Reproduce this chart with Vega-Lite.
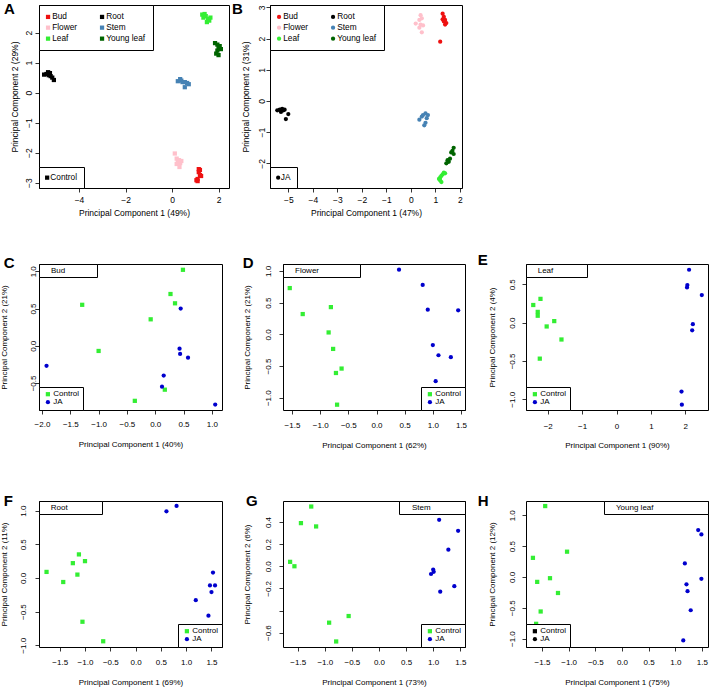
{
  "$schema": "https://vega.github.io/schema/vega-lite/v6.json",
  "padding": {"left": 0, "top": 1, "right": 0, "bottom": 0},
  "datasets": {
    "A": [
      {"tissue": "Bud", "treatment": "Control", "pc1": 1.15, "pc2": -2.55},
      {"tissue": "Bud", "treatment": "Control", "pc1": 1.2, "pc2": -2.58},
      {"tissue": "Bud", "treatment": "Control", "pc1": 1.15, "pc2": -2.65},
      {"tissue": "Bud", "treatment": "Control", "pc1": 1.2, "pc2": -2.75},
      {"tissue": "Bud", "treatment": "Control", "pc1": 1.25, "pc2": -2.78},
      {"tissue": "Bud", "treatment": "Control", "pc1": 1.1, "pc2": -2.88},
      {"tissue": "Bud", "treatment": "Control", "pc1": 1.05, "pc2": -2.92},
      {"tissue": "Bud", "treatment": "Control", "pc1": 1.1, "pc2": -2.95},
      {"tissue": "Flower", "treatment": "Control", "pc1": 0.12, "pc2": -2.03},
      {"tissue": "Flower", "treatment": "Control", "pc1": 0.2, "pc2": -2.2},
      {"tissue": "Flower", "treatment": "Control", "pc1": 0.25, "pc2": -2.3},
      {"tissue": "Flower", "treatment": "Control", "pc1": 0.3, "pc2": -2.25},
      {"tissue": "Flower", "treatment": "Control", "pc1": 0.4, "pc2": -2.28},
      {"tissue": "Flower", "treatment": "Control", "pc1": 0.2, "pc2": -2.38},
      {"tissue": "Flower", "treatment": "Control", "pc1": 0.35, "pc2": -2.35},
      {"tissue": "Flower", "treatment": "Control", "pc1": 0.32, "pc2": -2.48},
      {"tissue": "Leaf", "treatment": "Control", "pc1": 1.3, "pc2": 2.6},
      {"tissue": "Leaf", "treatment": "Control", "pc1": 1.4, "pc2": 2.62},
      {"tissue": "Leaf", "treatment": "Control", "pc1": 1.45, "pc2": 2.55},
      {"tissue": "Leaf", "treatment": "Control", "pc1": 1.35, "pc2": 2.5},
      {"tissue": "Leaf", "treatment": "Control", "pc1": 1.55, "pc2": 2.45},
      {"tissue": "Leaf", "treatment": "Control", "pc1": 1.6, "pc2": 2.4},
      {"tissue": "Leaf", "treatment": "Control", "pc1": 1.5, "pc2": 2.35},
      {"tissue": "Leaf", "treatment": "Control", "pc1": 1.65, "pc2": 2.5},
      {"tissue": "Root", "treatment": "Control", "pc1": -5.5, "pc2": 0.6},
      {"tissue": "Root", "treatment": "Control", "pc1": -5.4, "pc2": 0.62},
      {"tissue": "Root", "treatment": "Control", "pc1": -5.33, "pc2": 0.68},
      {"tissue": "Root", "treatment": "Control", "pc1": -5.3, "pc2": 0.58},
      {"tissue": "Root", "treatment": "Control", "pc1": -5.25, "pc2": 0.65},
      {"tissue": "Root", "treatment": "Control", "pc1": -5.22, "pc2": 0.55},
      {"tissue": "Root", "treatment": "Control", "pc1": -5.15, "pc2": 0.5},
      {"tissue": "Root", "treatment": "Control", "pc1": -5.08, "pc2": 0.42},
      {"tissue": "Stem", "treatment": "Control", "pc1": 0.25, "pc2": 0.38},
      {"tissue": "Stem", "treatment": "Control", "pc1": 0.35, "pc2": 0.45},
      {"tissue": "Stem", "treatment": "Control", "pc1": 0.4, "pc2": 0.4},
      {"tissue": "Stem", "treatment": "Control", "pc1": 0.45, "pc2": 0.35},
      {"tissue": "Stem", "treatment": "Control", "pc1": 0.55, "pc2": 0.35},
      {"tissue": "Stem", "treatment": "Control", "pc1": 0.65, "pc2": 0.32},
      {"tissue": "Stem", "treatment": "Control", "pc1": 0.72, "pc2": 0.28},
      {"tissue": "Stem", "treatment": "Control", "pc1": 0.55, "pc2": 0.18},
      {"tissue": "Young leaf", "treatment": "Control", "pc1": 1.85, "pc2": 1.65},
      {"tissue": "Young leaf", "treatment": "Control", "pc1": 1.95, "pc2": 1.6},
      {"tissue": "Young leaf", "treatment": "Control", "pc1": 2.05, "pc2": 1.55},
      {"tissue": "Young leaf", "treatment": "Control", "pc1": 2.0, "pc2": 1.5},
      {"tissue": "Young leaf", "treatment": "Control", "pc1": 2.1, "pc2": 1.45},
      {"tissue": "Young leaf", "treatment": "Control", "pc1": 1.95, "pc2": 1.4},
      {"tissue": "Young leaf", "treatment": "Control", "pc1": 1.9, "pc2": 1.3},
      {"tissue": "Young leaf", "treatment": "Control", "pc1": 2.0, "pc2": 1.25}
    ],
    "B": [
      {"tissue": "Bud", "treatment": "JA", "pc1": 1.3, "pc2": 2.8},
      {"tissue": "Bud", "treatment": "JA", "pc1": 1.35, "pc2": 2.7},
      {"tissue": "Bud", "treatment": "JA", "pc1": 1.3, "pc2": 2.62},
      {"tissue": "Bud", "treatment": "JA", "pc1": 1.4, "pc2": 2.6},
      {"tissue": "Bud", "treatment": "JA", "pc1": 1.35, "pc2": 2.55},
      {"tissue": "Bud", "treatment": "JA", "pc1": 1.45, "pc2": 2.5},
      {"tissue": "Bud", "treatment": "JA", "pc1": 1.4, "pc2": 2.45},
      {"tissue": "Bud", "treatment": "JA", "pc1": 1.2, "pc2": 1.9},
      {"tissue": "Flower", "treatment": "JA", "pc1": 0.4, "pc2": 2.75},
      {"tissue": "Flower", "treatment": "JA", "pc1": 0.45, "pc2": 2.65},
      {"tissue": "Flower", "treatment": "JA", "pc1": 0.35, "pc2": 2.6},
      {"tissue": "Flower", "treatment": "JA", "pc1": 0.2, "pc2": 2.48},
      {"tissue": "Flower", "treatment": "JA", "pc1": 0.4, "pc2": 2.45},
      {"tissue": "Flower", "treatment": "JA", "pc1": 0.5, "pc2": 2.42},
      {"tissue": "Flower", "treatment": "JA", "pc1": 0.35, "pc2": 2.35},
      {"tissue": "Flower", "treatment": "JA", "pc1": 0.45, "pc2": 2.2},
      {"tissue": "Leaf", "treatment": "JA", "pc1": 1.35, "pc2": -2.3},
      {"tissue": "Leaf", "treatment": "JA", "pc1": 1.3, "pc2": -2.35},
      {"tissue": "Leaf", "treatment": "JA", "pc1": 1.25, "pc2": -2.4},
      {"tissue": "Leaf", "treatment": "JA", "pc1": 1.4, "pc2": -2.32},
      {"tissue": "Leaf", "treatment": "JA", "pc1": 1.2, "pc2": -2.45},
      {"tissue": "Leaf", "treatment": "JA", "pc1": 1.15, "pc2": -2.5},
      {"tissue": "Leaf", "treatment": "JA", "pc1": 1.2, "pc2": -2.55},
      {"tissue": "Leaf", "treatment": "JA", "pc1": 1.25, "pc2": -2.6},
      {"tissue": "Root", "treatment": "JA", "pc1": -5.45, "pc2": -0.3},
      {"tissue": "Root", "treatment": "JA", "pc1": -5.35, "pc2": -0.28},
      {"tissue": "Root", "treatment": "JA", "pc1": -5.3, "pc2": -0.35},
      {"tissue": "Root", "treatment": "JA", "pc1": -5.25, "pc2": -0.25},
      {"tissue": "Root", "treatment": "JA", "pc1": -5.2, "pc2": -0.3},
      {"tissue": "Root", "treatment": "JA", "pc1": -5.15, "pc2": -0.28},
      {"tissue": "Root", "treatment": "JA", "pc1": -5.0, "pc2": -0.42},
      {"tissue": "Root", "treatment": "JA", "pc1": -5.1, "pc2": -0.58},
      {"tissue": "Stem", "treatment": "JA", "pc1": 0.35, "pc2": -0.6},
      {"tissue": "Stem", "treatment": "JA", "pc1": 0.45, "pc2": -0.5},
      {"tissue": "Stem", "treatment": "JA", "pc1": 0.5, "pc2": -0.45},
      {"tissue": "Stem", "treatment": "JA", "pc1": 0.6, "pc2": -0.4},
      {"tissue": "Stem", "treatment": "JA", "pc1": 0.7, "pc2": -0.45},
      {"tissue": "Stem", "treatment": "JA", "pc1": 0.65, "pc2": -0.55},
      {"tissue": "Stem", "treatment": "JA", "pc1": 0.6, "pc2": -0.7},
      {"tissue": "Stem", "treatment": "JA", "pc1": 0.55, "pc2": -0.78},
      {"tissue": "Young leaf", "treatment": "JA", "pc1": 1.75, "pc2": -1.5},
      {"tissue": "Young leaf", "treatment": "JA", "pc1": 1.7, "pc2": -1.6},
      {"tissue": "Young leaf", "treatment": "JA", "pc1": 1.65, "pc2": -1.65},
      {"tissue": "Young leaf", "treatment": "JA", "pc1": 1.75, "pc2": -1.7},
      {"tissue": "Young leaf", "treatment": "JA", "pc1": 1.6, "pc2": -1.85},
      {"tissue": "Young leaf", "treatment": "JA", "pc1": 1.5, "pc2": -1.9},
      {"tissue": "Young leaf", "treatment": "JA", "pc1": 1.45, "pc2": -2.0},
      {"tissue": "Young leaf", "treatment": "JA", "pc1": 1.55, "pc2": -1.95}
    ],
    "C": [
      {"tissue": "Bud", "treatment": "Control", "pc1": -1.29, "pc2": 0.55},
      {"tissue": "Bud", "treatment": "Control", "pc1": -1.0, "pc2": -0.07},
      {"tissue": "Bud", "treatment": "Control", "pc1": -0.08, "pc2": 0.355},
      {"tissue": "Bud", "treatment": "Control", "pc1": 0.27, "pc2": 0.695},
      {"tissue": "Bud", "treatment": "Control", "pc1": 0.35, "pc2": 0.57},
      {"tissue": "Bud", "treatment": "Control", "pc1": 0.49, "pc2": 1.02},
      {"tissue": "Bud", "treatment": "Control", "pc1": 0.17, "pc2": -0.59},
      {"tissue": "Bud", "treatment": "Control", "pc1": -0.36, "pc2": -0.74},
      {"tissue": "Bud", "treatment": "JA", "pc1": -1.92, "pc2": -0.27},
      {"tissue": "Bud", "treatment": "JA", "pc1": 0.45, "pc2": 0.5},
      {"tissue": "Bud", "treatment": "JA", "pc1": 0.43, "pc2": -0.04},
      {"tissue": "Bud", "treatment": "JA", "pc1": 0.44, "pc2": -0.11},
      {"tissue": "Bud", "treatment": "JA", "pc1": 0.58, "pc2": -0.16},
      {"tissue": "Bud", "treatment": "JA", "pc1": 0.15, "pc2": -0.4},
      {"tissue": "Bud", "treatment": "JA", "pc1": 0.12, "pc2": -0.55},
      {"tissue": "Bud", "treatment": "JA", "pc1": 1.06, "pc2": -0.79}
    ],
    "D": [
      {"tissue": "Flower", "treatment": "Control", "pc1": -1.54, "pc2": 0.73},
      {"tissue": "Flower", "treatment": "Control", "pc1": -1.31, "pc2": 0.32},
      {"tissue": "Flower", "treatment": "Control", "pc1": -0.81, "pc2": 0.43},
      {"tissue": "Flower", "treatment": "Control", "pc1": -0.85, "pc2": 0.03},
      {"tissue": "Flower", "treatment": "Control", "pc1": -0.77, "pc2": -0.23},
      {"tissue": "Flower", "treatment": "Control", "pc1": -0.62, "pc2": -0.54},
      {"tissue": "Flower", "treatment": "Control", "pc1": -0.72, "pc2": -0.61},
      {"tissue": "Flower", "treatment": "Control", "pc1": -0.7, "pc2": -1.11},
      {"tissue": "Flower", "treatment": "JA", "pc1": 0.4, "pc2": 1.02},
      {"tissue": "Flower", "treatment": "JA", "pc1": 0.82, "pc2": 0.78},
      {"tissue": "Flower", "treatment": "JA", "pc1": 0.91, "pc2": 0.39},
      {"tissue": "Flower", "treatment": "JA", "pc1": 1.45, "pc2": 0.38},
      {"tissue": "Flower", "treatment": "JA", "pc1": 1.0, "pc2": -0.17},
      {"tissue": "Flower", "treatment": "JA", "pc1": 1.1, "pc2": -0.33},
      {"tissue": "Flower", "treatment": "JA", "pc1": 1.32, "pc2": -0.36},
      {"tissue": "Flower", "treatment": "JA", "pc1": 1.05, "pc2": -0.74}
    ],
    "E": [
      {"tissue": "Leaf", "treatment": "Control", "pc1": -2.42, "pc2": 0.23},
      {"tissue": "Leaf", "treatment": "Control", "pc1": -2.21, "pc2": 0.31},
      {"tissue": "Leaf", "treatment": "Control", "pc1": -2.29, "pc2": 0.14},
      {"tissue": "Leaf", "treatment": "Control", "pc1": -2.29, "pc2": 0.09},
      {"tissue": "Leaf", "treatment": "Control", "pc1": -1.81, "pc2": 0.02},
      {"tissue": "Leaf", "treatment": "Control", "pc1": -2.03, "pc2": -0.05},
      {"tissue": "Leaf", "treatment": "Control", "pc1": -1.6, "pc2": -0.22},
      {"tissue": "Leaf", "treatment": "Control", "pc1": -2.23, "pc2": -0.47},
      {"tissue": "Leaf", "treatment": "JA", "pc1": 2.11, "pc2": 0.69},
      {"tissue": "Leaf", "treatment": "JA", "pc1": 2.06, "pc2": 0.49},
      {"tissue": "Leaf", "treatment": "JA", "pc1": 2.05, "pc2": 0.46},
      {"tissue": "Leaf", "treatment": "JA", "pc1": 2.48, "pc2": 0.36},
      {"tissue": "Leaf", "treatment": "JA", "pc1": 2.22, "pc2": -0.02},
      {"tissue": "Leaf", "treatment": "JA", "pc1": 2.2, "pc2": -0.1},
      {"tissue": "Leaf", "treatment": "JA", "pc1": 1.89, "pc2": -0.9},
      {"tissue": "Leaf", "treatment": "JA", "pc1": 1.9, "pc2": -1.07}
    ],
    "F": [
      {"tissue": "Root", "treatment": "Control", "pc1": -1.76, "pc2": 0.09},
      {"tissue": "Root", "treatment": "Control", "pc1": -1.43, "pc2": -0.06},
      {"tissue": "Root", "treatment": "Control", "pc1": -1.24, "pc2": 0.22},
      {"tissue": "Root", "treatment": "Control", "pc1": -1.12, "pc2": 0.35},
      {"tissue": "Root", "treatment": "Control", "pc1": -1.0, "pc2": 0.25},
      {"tissue": "Root", "treatment": "Control", "pc1": -1.15, "pc2": 0.05},
      {"tissue": "Root", "treatment": "Control", "pc1": -1.05, "pc2": -0.65},
      {"tissue": "Root", "treatment": "Control", "pc1": -0.64, "pc2": -0.94},
      {"tissue": "Root", "treatment": "JA", "pc1": 0.61, "pc2": 0.99},
      {"tissue": "Root", "treatment": "JA", "pc1": 0.81, "pc2": 1.07},
      {"tissue": "Root", "treatment": "JA", "pc1": 1.53, "pc2": 0.08},
      {"tissue": "Root", "treatment": "JA", "pc1": 1.47, "pc2": -0.11},
      {"tissue": "Root", "treatment": "JA", "pc1": 1.57, "pc2": -0.11},
      {"tissue": "Root", "treatment": "JA", "pc1": 1.5, "pc2": -0.21},
      {"tissue": "Root", "treatment": "JA", "pc1": 1.19, "pc2": -0.33},
      {"tissue": "Root", "treatment": "JA", "pc1": 1.44, "pc2": -0.56}
    ],
    "G": [
      {"tissue": "Stem", "treatment": "Control", "pc1": -1.25, "pc2": 0.54},
      {"tissue": "Stem", "treatment": "Control", "pc1": -1.44, "pc2": 0.39},
      {"tissue": "Stem", "treatment": "Control", "pc1": -1.16, "pc2": 0.36},
      {"tissue": "Stem", "treatment": "Control", "pc1": -1.64, "pc2": 0.04},
      {"tissue": "Stem", "treatment": "Control", "pc1": -1.56, "pc2": 0.0},
      {"tissue": "Stem", "treatment": "Control", "pc1": -0.56, "pc2": -0.45},
      {"tissue": "Stem", "treatment": "Control", "pc1": -0.92, "pc2": -0.51},
      {"tissue": "Stem", "treatment": "Control", "pc1": -0.79, "pc2": -0.68},
      {"tissue": "Stem", "treatment": "JA", "pc1": 1.11, "pc2": 0.42},
      {"tissue": "Stem", "treatment": "JA", "pc1": 1.46, "pc2": 0.32},
      {"tissue": "Stem", "treatment": "JA", "pc1": 1.28, "pc2": 0.15},
      {"tissue": "Stem", "treatment": "JA", "pc1": 1.0, "pc2": -0.03},
      {"tissue": "Stem", "treatment": "JA", "pc1": 1.01, "pc2": -0.05},
      {"tissue": "Stem", "treatment": "JA", "pc1": 0.96, "pc2": -0.07},
      {"tissue": "Stem", "treatment": "JA", "pc1": 1.13, "pc2": -0.23},
      {"tissue": "Stem", "treatment": "JA", "pc1": 1.39, "pc2": -0.18}
    ],
    "H": [
      {"tissue": "Young leaf", "treatment": "Control", "pc1": -1.44, "pc2": 1.15},
      {"tissue": "Young leaf", "treatment": "Control", "pc1": -1.03, "pc2": 0.41},
      {"tissue": "Young leaf", "treatment": "Control", "pc1": -1.67, "pc2": 0.31},
      {"tissue": "Young leaf", "treatment": "Control", "pc1": -1.59, "pc2": -0.08},
      {"tissue": "Young leaf", "treatment": "Control", "pc1": -1.35, "pc2": -0.02},
      {"tissue": "Young leaf", "treatment": "Control", "pc1": -1.2, "pc2": -0.26},
      {"tissue": "Young leaf", "treatment": "Control", "pc1": -1.525, "pc2": -0.56},
      {"tissue": "Young leaf", "treatment": "Control", "pc1": -1.61, "pc2": -0.76},
      {"tissue": "Young leaf", "treatment": "JA", "pc1": 1.43, "pc2": 0.76},
      {"tissue": "Young leaf", "treatment": "JA", "pc1": 1.49, "pc2": 0.69},
      {"tissue": "Young leaf", "treatment": "JA", "pc1": 1.18, "pc2": 0.22},
      {"tissue": "Young leaf", "treatment": "JA", "pc1": 1.21, "pc2": -0.12},
      {"tissue": "Young leaf", "treatment": "JA", "pc1": 1.23, "pc2": -0.23},
      {"tissue": "Young leaf", "treatment": "JA", "pc1": 1.49, "pc2": -0.03},
      {"tissue": "Young leaf", "treatment": "JA", "pc1": 1.29, "pc2": -0.54},
      {"tissue": "Young leaf", "treatment": "JA", "pc1": 1.15, "pc2": -1.03}
    ]
  },
  "spacing": 35,
  "resolve": {
    "scale": {"color": "independent", "shape": "independent", "opacity": "independent"},
    "legend": {"color": "independent", "shape": "independent", "opacity": "independent"}
  },
  "vconcat": [
    {
      "hconcat": [
        {
          "width": 190,
          "height": 183,
          "title": {"text": "A", "dx": -35, "dy": 16},
          "data": {"name": "A"},
          "mark": {"type": "point", "filled": true, "size": 18, "opacity": 1},
          "encoding": {
            "x": {
              "field": "pc1", "type": "quantitative",
              "scale": {"domain": [-5.72, 2.45], "nice": false, "zero": false},
              "axis": {"title": "Principal Component 1 (49%)", "values": [-4, -2, 0, 2], "format": "d", "labelPadding": 7, "titleY": 24, "labelFontSize": 8.5, "titleFontSize": 8.5}
            },
            "y": {
              "field": "pc2", "type": "quantitative",
              "scale": {"domain": [-3.18, 2.92], "nice": false, "zero": false},
              "axis": {"title": "Principal Component 2 (29%)", "values": [-3, -2, -1, 0, 1, 2], "format": "d", "labelPadding": 7, "titleX": -24.3, "labelFontSize": 8.5, "titleFontSize": 8.5}
            },
            "color": {
              "field": "tissue", "type": "nominal",
              "scale": {"domain": ["Bud", "Flower", "Leaf", "Root", "Stem", "Young leaf"], "range": ["#ee1111", "#ffc0cb", "#33ee33", "#000000", "#4682b4", "#006400"]},
              "legend": {"orient": "top-left", "title": null, "columns": 2, "direction": "vertical", "symbolType": "square", "padding": 7.5, "symbolSize": 18, "symbolStrokeWidth": 0, "symbolOffset": -2.6, "labelOffset": 0, "columnPadding": 22, "rowPadding": 2, "labelFontSize": 8.3}
            },
            "shape": {
              "field": "treatment", "type": "nominal",
              "scale": {"domain": ["Control"], "range": ["square"]},
              "legend": {"orient": "bottom-left", "title": null, "padding": 6.5, "symbolSize": 18, "symbolStrokeWidth": 0, "symbolOffset": -2.5, "labelOffset": -1, "labelFontSize": 8.3, "encode": {"symbols": {"fill": {"value": "black"}, "stroke": {"value": "black"}}}}
            }
          }
        },
        {
          "width": 192,
          "height": 183,
          "title": {"text": "B", "dx": -38, "dy": 16.3},
          "data": {"name": "B"},
          "mark": {"type": "point", "filled": true, "size": 18, "opacity": 1},
          "encoding": {
            "x": {
              "field": "pc1", "type": "quantitative",
              "scale": {"domain": [-5.747, 2.09], "nice": false, "zero": false},
              "axis": {"title": "Principal Component 1 (47%)", "values": [-5, -4, -3, -2, -1, 0, 1, 2], "format": "d", "labelPadding": 7.3, "titleY": 24, "labelFontSize": 8.5, "titleFontSize": 8.5}
            },
            "y": {
              "field": "pc2", "type": "quantitative",
              "scale": {"domain": [-2.79, 3.077], "nice": false, "zero": false},
              "axis": {"title": "Principal Component 2 (31%)", "values": [-2, -1, 0, 1, 2, 3], "format": "d", "labelPadding": 5, "titleX": -25, "labelFontSize": 8.5, "titleFontSize": 8.5}
            },
            "color": {
              "field": "tissue", "type": "nominal",
              "scale": {"domain": ["Bud", "Flower", "Leaf", "Root", "Stem", "Young leaf"], "range": ["#ee1111", "#ffc0cb", "#33ee33", "#000000", "#4682b4", "#006400"]},
              "legend": {"orient": "top-left", "title": null, "columns": 2, "direction": "vertical", "symbolType": "circle", "padding": 7.5, "symbolSize": 18, "symbolStrokeWidth": 0, "symbolOffset": -2.6, "labelOffset": 0, "columnPadding": 22, "rowPadding": 2, "labelFontSize": 8.3}
            },
            "shape": {
              "field": "treatment", "type": "nominal",
              "scale": {"domain": ["JA"], "range": ["circle"]},
              "legend": {"orient": "bottom-left", "title": null, "padding": 6.5, "symbolSize": 18, "symbolStrokeWidth": 0, "symbolOffset": -2.5, "labelOffset": -1.5, "labelFontSize": 8.3, "encode": {"symbols": {"fill": {"value": "black"}, "stroke": {"value": "black"}}}}
            }
          }
        }
      ],
      "spacing": 41,
      "bounds": "flush",
      "resolve": {
        "scale": {"color": "independent", "shape": "independent", "opacity": "independent"},
        "legend": {"color": "independent", "shape": "independent", "opacity": "independent"}
      }
    },
    {
      "vconcat": [
        {
          "hconcat": [
            {
              "width": 183,
              "height": 146,
              "title": {"text": "C", "dx": -35.3, "dy": 11.7},
              "data": {"name": "C"},
              "mark": {"type": "point", "filled": true, "size": 18, "opacity": 1},
              "encoding": {
                "x": {
                  "field": "pc1", "type": "quantitative",
                  "scale": {"domain": [-2.053, 1.18], "nice": false, "zero": false},
                  "axis": {"title": "Principal Component 1 (40%)", "values": [-2, -1.5, -1, -0.5, 0, 0.5, 1], "format": ".1f", "labelPadding": 10.3, "titleY": 34.3}
                },
                "y": {
                  "field": "pc2", "type": "quantitative",
                  "scale": {"domain": [-0.863, 1.098], "nice": false, "zero": false},
                  "axis": {"title": "Principal Component 2 (21%)", "values": [-0.5, 0, 0.5, 1], "format": ".1f", "labelPadding": 2, "titleX": -34.3}
                },
                "color": {
                  "field": "treatment", "type": "nominal",
                  "scale": {"domain": ["Control", "JA"], "range": ["#33ee33", "#0000cd"]},
                  "legend": {"orient": "bottom-left", "title": null, "direction": "vertical", "padding": 3.2, "symbolSize": 18, "symbolStrokeWidth": 0, "symbolOffset": 1.7, "labelOffset": 1.4, "rowPadding": -1.3, "labelFontSize": 8}
                },
                "shape": {
                  "field": "treatment", "type": "nominal",
                  "scale": {"domain": ["Control", "JA"], "range": ["square", "circle"]}
                },
                "opacity": {
                  "field": "tissue", "type": "ordinal",
                  "scale": {"range": [1, 1]},
                  "legend": {"orient": "top-left", "title": null, "padding": 2.5, "symbolSize": 0, "symbolType": "stroke", "symbolStrokeWidth": 0, "labelOffset": 1.5, "labelFontSize": 8, "labelExpr": "datum.label + '\u00a0\u00a0\u00a0\u00a0\u00a0\u00a0\u00a0\u00a0\u00a0\u00a0\u00a0\u00a0\u00a0\u200b'", "encode": {"symbols": {"fill": {"value": "transparent"}, "stroke": {"value": "transparent"}}}}
                }
              }
            },
            {
              "width": 182,
              "height": 146,
              "title": {"text": "D", "dx": -40.3, "dy": 11},
              "data": {"name": "D"},
              "mark": {"type": "point", "filled": true, "size": 18, "opacity": 1},
              "encoding": {
                "x": {
                  "field": "pc1", "type": "quantitative",
                  "scale": {"domain": [-1.66, 1.571], "nice": false, "zero": false},
                  "axis": {"title": "Principal Component 1 (62%)", "values": [-1.5, -1, -0.5, 0, 0.5, 1, 1.5], "format": ".1f", "labelPadding": 11.3, "titleY": 35.3}
                },
                "y": {
                  "field": "pc2", "type": "quantitative",
                  "scale": {"domain": [-1.194, 1.11], "nice": false, "zero": false},
                  "axis": {"title": "Principal Component 2 (21%)", "values": [-1, -0.5, 0, 0.5, 1], "format": ".1f", "labelPadding": 11, "titleX": -35.6}
                },
                "color": {
                  "field": "treatment", "type": "nominal",
                  "scale": {"domain": ["Control", "JA"], "range": ["#33ee33", "#0000cd"]},
                  "legend": {"orient": "bottom-right", "title": null, "direction": "vertical", "padding": 3.2, "symbolSize": 18, "symbolStrokeWidth": 0, "symbolOffset": 1.7, "labelOffset": 1.4, "rowPadding": -1.3, "labelFontSize": 8}
                },
                "shape": {
                  "field": "treatment", "type": "nominal",
                  "scale": {"domain": ["Control", "JA"], "range": ["square", "circle"]}
                },
                "opacity": {
                  "field": "tissue", "type": "ordinal",
                  "scale": {"range": [1, 1]},
                  "legend": {"orient": "top-left", "title": null, "padding": 2.5, "symbolSize": 0, "symbolType": "stroke", "symbolStrokeWidth": 0, "labelOffset": 1.5, "labelFontSize": 8, "labelExpr": "datum.label + '\u00a0\u00a0\u00a0\u00a0\u00a0\u00a0\u00a0\u00a0\u00a0\u00a0\u00a0\u00a0\u00a0\u00a0\u00a0\u00a0\u00a0\u200b'", "encode": {"symbols": {"fill": {"value": "transparent"}, "stroke": {"value": "transparent"}}}}
                }
              }
            },
            {
              "width": 182,
              "height": 146,
              "title": {"text": "E", "dx": -48.3, "dy": 8.3},
              "data": {"name": "E"},
              "mark": {"type": "point", "filled": true, "size": 18, "opacity": 1},
              "encoding": {
                "x": {
                  "field": "pc1", "type": "quantitative",
                  "scale": {"domain": [-2.631, 2.66], "nice": false, "zero": false},
                  "axis": {"title": "Principal Component 1 (90%)", "values": [-2, -1, 0, 1, 2], "format": "d", "labelPadding": 12, "titleY": 35.3}
                },
                "y": {
                  "field": "pc2", "type": "quantitative",
                  "scale": {"domain": [-1.14, 0.765], "nice": false, "zero": false},
                  "axis": {"title": "Principal Component 2 (4%)", "values": [-1, -0.5, 0, 0.5], "format": ".1f", "labelPadding": 9.6, "titleX": -34}
                },
                "color": {
                  "field": "treatment", "type": "nominal",
                  "scale": {"domain": ["Control", "JA"], "range": ["#33ee33", "#0000cd"]},
                  "legend": {"orient": "bottom-left", "title": null, "direction": "vertical", "padding": 3.2, "symbolSize": 18, "symbolStrokeWidth": 0, "symbolOffset": 1.7, "labelOffset": 1.4, "rowPadding": -1.3, "labelFontSize": 8}
                },
                "shape": {
                  "field": "treatment", "type": "nominal",
                  "scale": {"domain": ["Control", "JA"], "range": ["square", "circle"]}
                },
                "opacity": {
                  "field": "tissue", "type": "ordinal",
                  "scale": {"range": [1, 1]},
                  "legend": {"orient": "top-left", "title": null, "padding": 2.5, "symbolSize": 0, "symbolType": "stroke", "symbolStrokeWidth": 0, "labelOffset": 1.2, "labelFontSize": 8, "labelExpr": "datum.label + '\u00a0\u00a0\u00a0\u00a0\u00a0\u00a0\u00a0\u00a0\u00a0\u00a0\u00a0\u00a0\u00a0\u00a0\u200b'", "encode": {"symbols": {"fill": {"value": "transparent"}, "stroke": {"value": "transparent"}}}}
                }
              }
            }
          ],
          "spacing": 61,
          "bounds": "flush",
          "resolve": {
            "scale": {"color": "independent", "shape": "independent", "opacity": "independent"},
            "legend": {"color": "independent", "shape": "independent", "opacity": "independent"}
          }
        },
        {
          "hconcat": [
            {
              "width": 183,
              "height": 146,
              "title": {"text": "F", "dx": -35.3, "dy": 12.3},
              "data": {"name": "F"},
              "mark": {"type": "point", "filled": true, "size": 18, "opacity": 1},
              "encoding": {
                "x": {
                  "field": "pc1", "type": "quantitative",
                  "scale": {"domain": [-1.909, 1.708], "nice": false, "zero": false},
                  "axis": {"title": "Principal Component 1 (69%)", "values": [-1.5, -1, -0.5, 0, 0.5, 1, 1.5], "format": ".1f", "labelPadding": 11, "titleY": 35}
                },
                "y": {
                  "field": "pc2", "type": "quantitative",
                  "scale": {"domain": [-1.025, 1.143], "nice": false, "zero": false},
                  "axis": {"title": "Principal Component 2 (11%)", "values": [-1, -0.5, 0, 0.5, 1], "format": ".1f", "labelPadding": 11.7, "titleX": -34.3}
                },
                "color": {
                  "field": "treatment", "type": "nominal",
                  "scale": {"domain": ["Control", "JA"], "range": ["#33ee33", "#0000cd"]},
                  "legend": {"orient": "bottom-right", "title": null, "direction": "vertical", "padding": 3.2, "symbolSize": 18, "symbolStrokeWidth": 0, "symbolOffset": 1.7, "labelOffset": 1.4, "rowPadding": -1.3, "labelFontSize": 8}
                },
                "shape": {
                  "field": "treatment", "type": "nominal",
                  "scale": {"domain": ["Control", "JA"], "range": ["square", "circle"]}
                },
                "opacity": {
                  "field": "tissue", "type": "ordinal",
                  "scale": {"range": [1, 1]},
                  "legend": {"orient": "top-left", "title": null, "padding": 2.5, "symbolSize": 0, "symbolType": "stroke", "symbolStrokeWidth": 0, "labelOffset": 1.2, "labelFontSize": 8, "labelExpr": "datum.label + '\u00a0\u00a0\u00a0\u00a0\u00a0\u00a0\u00a0\u00a0\u00a0\u00a0\u00a0\u00a0\u00a0\u00a0\u200b'", "encode": {"symbols": {"fill": {"value": "transparent"}, "stroke": {"value": "transparent"}}}}
                }
              }
            },
            {
              "width": 182,
              "height": 146,
              "title": {"text": "G", "dx": -37, "dy": 12.3},
              "data": {"name": "G"},
              "mark": {"type": "point", "filled": true, "size": 18, "opacity": 1},
              "encoding": {
                "x": {
                  "field": "pc1", "type": "quantitative",
                  "scale": {"domain": [-1.771, 1.587], "nice": false, "zero": false},
                  "axis": {"title": "Principal Component 1 (73%)", "values": [-1.5, -1, -0.5, 0, 0.5, 1, 1.5], "format": ".1f", "labelPadding": 11, "titleY": 35}
                },
                "y": {
                  "field": "pc2", "type": "quantitative",
                  "scale": {"domain": [-0.73, 0.59], "nice": false, "zero": false},
                  "axis": {"title": "Principal Component 2 (6%)", "values": [-0.6, -0.4, -0.2, 0, 0.2, 0.4], "labelExpr": "abs(datum.value + 0.4) < 0.001 ? '' : format(datum.value, '.1f')", "labelPadding": 11, "titleX": -35.6}
                },
                "color": {
                  "field": "treatment", "type": "nominal",
                  "scale": {"domain": ["Control", "JA"], "range": ["#33ee33", "#0000cd"]},
                  "legend": {"orient": "bottom-right", "title": null, "direction": "vertical", "padding": 3.2, "symbolSize": 18, "symbolStrokeWidth": 0, "symbolOffset": 1.7, "labelOffset": 1.4, "rowPadding": -1.3, "labelFontSize": 8}
                },
                "shape": {
                  "field": "treatment", "type": "nominal",
                  "scale": {"domain": ["Control", "JA"], "range": ["square", "circle"]}
                },
                "opacity": {
                  "field": "tissue", "type": "ordinal",
                  "scale": {"range": [1, 1]},
                  "legend": {"orient": "top-right", "title": null, "padding": 2.5, "symbolSize": 0, "symbolType": "stroke", "symbolStrokeWidth": 0, "labelOffset": 2.5, "labelFontSize": 8, "labelExpr": "datum.label + '\u00a0\u00a0\u00a0\u00a0\u00a0\u00a0\u00a0\u00a0\u00a0\u00a0\u00a0\u00a0\u00a0\u00a0\u200b'", "encode": {"symbols": {"fill": {"value": "transparent"}, "stroke": {"value": "transparent"}}}}
                }
              }
            },
            {
              "width": 182,
              "height": 146,
              "title": {"text": "H", "dx": -48.3, "dy": 12.3},
              "data": {"name": "H"},
              "mark": {"type": "point", "filled": true, "size": 18, "opacity": 1},
              "encoding": {
                "x": {
                  "field": "pc1", "type": "quantitative",
                  "scale": {"domain": [-1.8, 1.614], "nice": false, "zero": false},
                  "axis": {"title": "Principal Component 1 (75%)", "values": [-1.5, -1, -0.5, 0, 0.5, 1, 1.5], "format": ".1f", "labelPadding": 11, "titleY": 35}
                },
                "y": {
                  "field": "pc2", "type": "quantitative",
                  "scale": {"domain": [-1.136, 1.232], "nice": false, "zero": false},
                  "axis": {"title": "Principal Component 2 (12%)", "values": [-1, -0.5, 0, 0.5, 1], "format": ".1f", "labelPadding": 9.6, "titleX": -33.6}
                },
                "color": {
                  "field": "treatment", "type": "nominal",
                  "scale": {"domain": ["JA", "Control"], "range": ["#0000cd", "#33ee33"]},
                  "legend": null
                },
                "shape": {
                  "field": "treatment", "type": "nominal",
                  "scale": {"domain": ["Control", "JA"], "range": ["square", "circle"]},
                  "legend": {"orient": "bottom-left", "title": null, "direction": "vertical", "padding": 3.2, "symbolSize": 18, "symbolStrokeWidth": 0, "symbolOffset": 1.7, "labelOffset": 1.4, "rowPadding": -1.3, "labelFontSize": 8, "encode": {"symbols": {"fill": {"value": "black"}, "stroke": {"value": "black"}}}}
                },
                "opacity": {
                  "field": "tissue", "type": "ordinal",
                  "scale": {"range": [1, 1]},
                  "legend": {"orient": "top-right", "title": null, "padding": 2.5, "symbolSize": 0, "symbolType": "stroke", "symbolStrokeWidth": 0, "labelOffset": 1.5, "labelFontSize": 8, "labelExpr": "datum.label + '\u00a0\u00a0\u00a0\u00a0\u00a0\u00a0\u00a0\u00a0\u00a0\u00a0\u00a0\u00a0\u00a0\u00a0\u00a0\u00a0\u00a0\u00a0\u00a0\u00a0\u00a0\u00a0\u00a0\u200b'", "encode": {"symbols": {"fill": {"value": "transparent"}, "stroke": {"value": "transparent"}}}}
                }
              }
            }
          ],
          "spacing": 61,
          "bounds": "flush",
          "resolve": {
            "scale": {"color": "independent", "shape": "independent", "opacity": "independent"},
            "legend": {"color": "independent", "shape": "independent", "opacity": "independent"}
          }
        }
      ],
      "spacing": 43,
      "resolve": {
        "scale": {"color": "independent", "shape": "independent", "opacity": "independent"},
        "legend": {"color": "independent", "shape": "independent", "opacity": "independent"}
      }
    }
  ],
  "config": {
    "font": "Liberation Sans",
    "background": "white",
    "view": {"stroke": "black", "strokeWidth": 1},
    "axis": {"domain": false, "grid": false, "ticks": true, "tickSize": 4, "tickColor": "black", "tickWidth": 0.8, "labelColor": "black", "titleColor": "black", "labelFontSize": 8, "titleFontSize": 8, "titleFontWeight": "normal", "labelFlush": false, "labelOverlap": false, "labelBound": false, "titleBaseline": "middle", "labelBaseline": "middle"},
    "axisY": {"labelAngle": -90, "labelAlign": "center"},
    "axisX": {"labelAlign": "center"},
    "legend": {"strokeColor": "black", "fillColor": "white", "offset": 0, "labelColor": "black", "labelFont": "Liberation Sans"},
    "title": {"anchor": "start", "frame": "group", "orient": "top", "offset": 0, "fontSize": 15, "fontWeight": "bold", "baseline": "alphabetic", "color": "black"}
  }
}
